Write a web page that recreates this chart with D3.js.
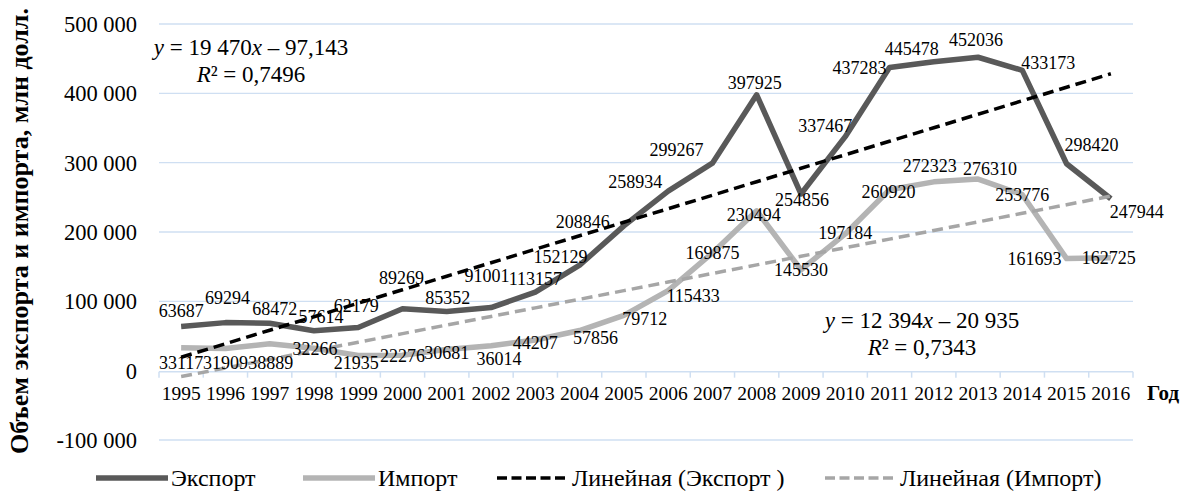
<!DOCTYPE html>
<html>
<head>
<meta charset="utf-8">
<script src="https://cdn.jsdelivr.net/npm/d3@7"></script>
<style>
  body { margin: 0; background: #fff; }
</style>
</head>
<body>
<script>
// --- Data ---
const years = ['1995', '1996', '1997', '1998', '1999', '2000', '2001', '2002', '2003', '2004', '2005',
  '2006', '2007', '2008', '2009', '2010', '2011', '2012', '2013', '2014', '2015', '2016'];

const exportValues = [63687, 69294, 68472, 57614, 62179, 89269, 85352, 91001, 113157, 152129, 208846,
  258934, 299267, 397925, 254856, 337467, 437283, 445478, 452036, 433173, 298420, 247944];

const importValues = [33117, 31909, 38889, 32266, 21935, 22276, 30681, 36014, 44207, 57856, 79712,
  115433, 169875, 230494, 145530, 197184, 260920, 272323, 276310, 253776, 161693, 162725];

const yTicks = [-100000, 0, 100000, 200000, 300000, 400000, 500000];

// linear trends as printed on the chart (x = 1..22)
const exportTrend = { slope: 19470, intercept: -97.143 };
const importTrend = { slope: 12394, intercept: -20935 };

// label nudges (px) relative to their point, as placed in the original
const exportLabelOffset = [[0, -16], [2, -25], [5, -14], [7, -14], [-2, -22], [-1, -31], [1, -14], [-4, -32],
  [0, -14], [-19, -8], [-41, -4], [-33, -9], [-36, -13], [-2, -12], [1, 6], [-20, -11], [-30, 0], [-22, -13],
  [-2, -18], [26, -8], [25, -19], [26, 13]];
const importLabelOffset = [[0, 15], [0, 14], [1, 19], [1, 0], [-2, 7], [0, 0], [0, 3], [8, 13], [0, 3],
  [16, 7], [21, 3], [25, 5], [0, 0], [-3, 4], [0, 0], [0, -1], [-1, 2], [-4, -16], [12, -10], [0, 0],
  [-32, 0], [-2, 0]];

// --- Layout ---
const W = 1185, H = 491;
const left = 159, right = 1133;
const exportColor = '#595959';
const importColor = '#b4b4b4';
const gridColor = '#cfdff2';

const svg = d3.select('body').append('svg')
  .attr('width', W)
  .attr('height', H)
  .style('display', 'block')
  .attr('font-family', "'Liberation Serif', 'Times New Roman', Tinos, 'DejaVu Serif', serif");

const x = d3.scalePoint().domain(years).range([left, right]).padding(0.5);
const step = x.step();
const y = d3.scaleLinear().domain([-100000, 500000]).range([440, 24]);

const fmt = v => d3.format(',')(v).replace(/,/g, '\u00a0').replace('\u2212', '-');

// gridlines
svg.append('g')
  .selectAll('line')
  .data(yTicks.filter(v => v !== 0))
  .join('line')
  .attr('x1', left).attr('x2', right)
  .attr('y1', d => y(d)).attr('y2', d => y(d))
  .attr('stroke', gridColor)
  .attr('stroke-width', 1.3);

// y tick labels
svg.append('g')
  .selectAll('text')
  .data(yTicks)
  .join('text')
  .attr('x', 137)
  .attr('y', d => y(d))
  .attr('dy', '0.35em')
  .attr('text-anchor', 'end')
  .attr('font-size', 22.5)
  .attr('fill', '#000')
  .text(fmt);

// category axis at zero
const axisY = y(0) + 1;
svg.append('line')
  .attr('x1', left).attr('x2', right)
  .attr('y1', axisY).attr('y2', axisY)
  .attr('stroke', gridColor)
  .attr('stroke-width', 1.5);
svg.append('g')
  .selectAll('line')
  .data(d3.range(years.length + 1))
  .join('line')
  .attr('x1', i => left + i * step).attr('x2', i => left + i * step)
  .attr('y1', axisY).attr('y2', axisY + 6)
  .attr('stroke', gridColor)
  .attr('stroke-width', 1.5);

svg.append('g')
  .selectAll('text')
  .data(years)
  .join('text')
  .attr('x', d => x(d))
  .attr('y', 393)
  .attr('dy', '0.35em')
  .attr('text-anchor', 'middle')
  .attr('font-size', 19.5)
  .text(d => d);

// axis titles
svg.append('text')
  .attr('transform', 'translate(28,231) rotate(-90)')
  .attr('text-anchor', 'middle')
  .attr('font-size', 26)
  .attr('font-weight', 'bold')
  .text('Объем экспорта и импорта, млн долл.');

svg.append('text')
  .attr('x', 1147)
  .attr('y', 393)
  .attr('dy', '0.35em')
  .attr('font-size', 21)
  .attr('font-weight', 'bold')
  .text('Год');

// --- Series ---
const line = d3.line()
  .x((d, i) => x(years[i]))
  .y(d => y(d));

svg.append('path')
  .datum(exportValues)
  .attr('d', line)
  .attr('fill', 'none')
  .attr('stroke', exportColor)
  .attr('stroke-width', 5.5)
  .attr('stroke-linejoin', 'round');

svg.append('path')
  .datum(importValues)
  .attr('d', line)
  .attr('fill', 'none')
  .attr('stroke', importColor)
  .attr('stroke-width', 5.5)
  .attr('stroke-linejoin', 'round');

// trend lines
const trendLine = t => d3.line()
  .x((d, i) => x(years[i]))
  .y((d, i) => y(t.slope * (i + 1) + t.intercept));

svg.append('path')
  .datum(importValues)
  .attr('d', trendLine(importTrend))
  .attr('fill', 'none')
  .attr('stroke', '#a6a6a6')
  .attr('stroke-width', 3.5)
  .attr('stroke-dasharray', '11,6');

svg.append('path')
  .datum(exportValues)
  .attr('d', trendLine(exportTrend))
  .attr('fill', 'none')
  .attr('stroke', '#000')
  .attr('stroke-width', 3.5)
  .attr('stroke-dasharray', '11,6');

// data labels
function addLabels(values, offsets) {
  svg.append('g')
    .selectAll('text')
    .data(values)
    .join('text')
    .attr('x', (d, i) => x(years[i]) + offsets[i][0])
    .attr('y', (d, i) => y(d) + offsets[i][1])
    .attr('dy', '0.35em')
    .attr('text-anchor', 'middle')
    .attr('font-size', 18)
    .text(d => d);
}
addLabels(exportValues, exportLabelOffset);
addLabels(importValues, importLabelOffset);

// trend equations
function addEquation(cx, cy, a, b, r2) {
  const g = svg.append('text')
    .attr('x', cx)
    .attr('y', cy)
    .attr('text-anchor', 'middle')
    .attr('font-size', 23);
  g.append('tspan').attr('font-style', 'italic').text('y');
  g.append('tspan').text(` = ${a}`);
  g.append('tspan').attr('font-style', 'italic').text('x');
  g.append('tspan').text(` – ${b}`);

  const r = svg.append('text')
    .attr('x', cx)
    .attr('y', cy + 27)
    .attr('text-anchor', 'middle')
    .attr('font-size', 23);
  r.append('tspan').attr('font-style', 'italic').text('R');
  r.append('tspan').text(`² = ${r2}`);
}
addEquation(251, 55, '19\u00a0470', '97,143', '0,7496');
addEquation(922, 328, '12\u00a0394', '20\u00a0935', '0,7343');

// --- Legend ---
const legendItems = [
  { label: 'Экспорт', color: exportColor, dash: null, width: 5.5, x: 96 },
  { label: 'Импорт', color: importColor, dash: null, width: 5.5, x: 303 },
  { label: 'Линейная (Экспорт )', color: '#000', dash: '10,4.5', width: 3.5, x: 497 },
  { label: 'Линейная (Импорт)', color: '#a6a6a6', dash: '10,4.5', width: 3.5, x: 825 }
];
const legendY = 478;
const legend = svg.append('g')
  .selectAll('g')
  .data(legendItems)
  .join('g')
  .attr('transform', d => `translate(${d.x},${legendY})`);
legend.append('line')
  .attr('x1', 0).attr('x2', 72)
  .attr('stroke', d => d.color)
  .attr('stroke-width', d => d.width)
  .attr('stroke-dasharray', d => d.dash);
legend.append('text')
  .attr('x', 75)
  .attr('dy', '0.35em')
  .attr('font-size', 24)
  .text(d => d.label);
</script>
</body>
</html>
